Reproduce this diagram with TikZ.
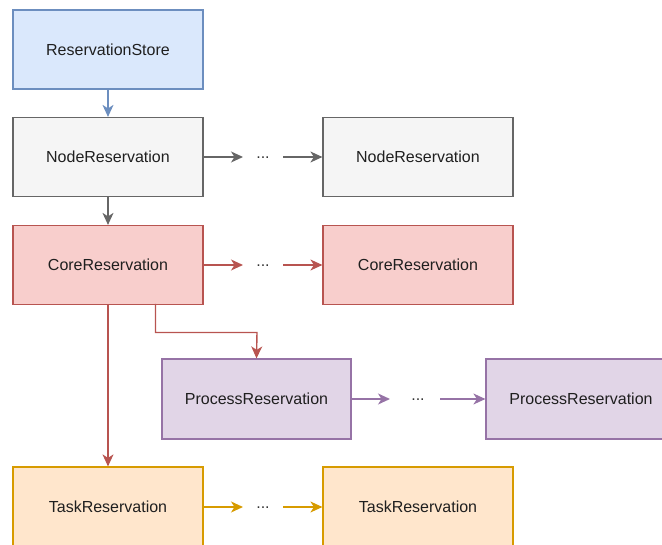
\documentclass[tikz,border=0pt]{standalone}
\usepackage{fontspec}
\setmainfont{Liberation Sans}
\usetikzlibrary{arrows.meta}
\definecolor{bluefill}{HTML}{DAE8FC}\definecolor{bluedraw}{HTML}{6C8EBF}
\definecolor{greyfill}{HTML}{F5F5F5}\definecolor{greydraw}{HTML}{666666}
\definecolor{redfill}{HTML}{F8CECC}\definecolor{reddraw}{HTML}{B85450}
\definecolor{purpfill}{HTML}{E1D5E7}\definecolor{purpdraw}{HTML}{9673A6}
\definecolor{orfill}{HTML}{FFE6CC}\definecolor{ordraw}{HTML}{D79B00}
\begin{document}
\begin{tikzpicture}[x=1pt,y=-1pt,
  box/.style={rectangle,minimum width=190pt,minimum height=79pt,line width=1.2pt,
    font=\fontsize{16}{19}\selectfont,text=black!88,inner sep=0pt},
  dots/.style={font=\fontsize{16}{19}\selectfont,text=black!80,inner sep=0pt},
  conn/.style={line width=1.4pt,-{Stealth[length=12pt,width=11pt,inset=3.5pt]}},
]
\useasboundingbox (0,0) rectangle (662,545);
\begin{scope}
\clip (0,0) rectangle (662,545);
\node[box,fill=bluefill,draw=bluedraw] (rs) at (108,49.5) {ReservationStore};
\node[box,fill=greyfill,draw=greydraw] (nr1) at (108,157) {NodeReservation};
\node[box,fill=greyfill,draw=greydraw] (nr2) at (418,157) {NodeReservation};
\node[box,fill=redfill,draw=reddraw] (cr1) at (108,265) {CoreReservation};
\node[box,fill=redfill,draw=reddraw] (cr2) at (418,265) {CoreReservation};
\node[box,fill=purpfill,draw=purpdraw,minimum width=189pt,minimum height=80pt] (pr1) at (256.5,399) {ProcessReservation};
\node[box,fill=purpfill,draw=purpdraw,minimum width=190pt,minimum height=80pt] (pr2) at (581,399) {ProcessReservation};
\node[box,fill=orfill,draw=ordraw,minimum height=80pt] (tr1) at (108,507) {TaskReservation};
\node[box,fill=orfill,draw=ordraw,minimum height=80pt] (tr2) at (418,507) {TaskReservation};
\end{scope}
\node[dots] (d1) at (263,158) {...};
\node[dots] (d2) at (263,266) {...};
\node[dots] (d3) at (418,400) {...};
\node[dots] (d4) at (263,508) {...};
\coordinate (crb) at (155.5,304);
% vertical chain
\draw[conn,draw=bluedraw] (rs) -- (nr1);
\draw[conn,draw=greydraw] (nr1) -- (cr1);
\draw[conn,draw=reddraw] (cr1) -- (tr1);
\draw[conn,draw=reddraw] (crb) |- (257,332.5) -- (pr1.north);
% horizontal chains through the ellipses
\draw[conn,draw=greydraw] (nr1.east) -- ([xshift=-20pt]d1.center |- nr1.east);
\draw[conn,draw=greydraw] ([xshift=20pt]d1.center |- nr1.east) -- (nr2.west);
\draw[conn,draw=reddraw] (cr1.east) -- ([xshift=-20pt]d2.center |- cr1.east);
\draw[conn,draw=reddraw] ([xshift=20pt]d2.center |- cr1.east) -- (cr2.west);
\draw[conn,draw=purpdraw] (pr1.east) -- ([xshift=-28pt]d3.center |- pr1.east);
\draw[conn,draw=purpdraw] ([xshift=22pt]d3.center |- pr1.east) -- (pr2.west);
\draw[conn,draw=ordraw] (tr1.east) -- ([xshift=-20pt]d4.center |- tr1.east);
\draw[conn,draw=ordraw] ([xshift=20pt]d4.center |- tr1.east) -- (tr2.west);
\end{tikzpicture}
\end{document}
